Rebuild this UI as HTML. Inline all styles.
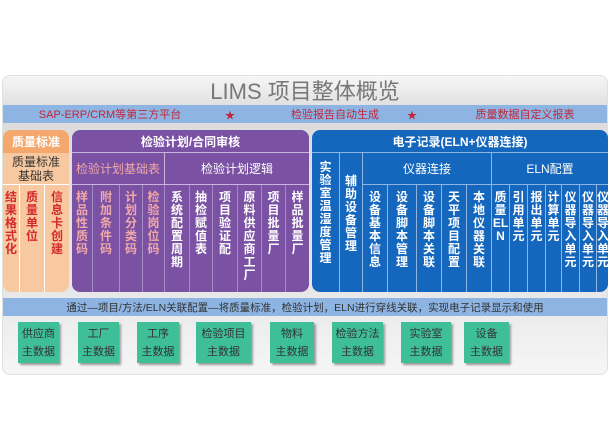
<!DOCTYPE html>
<html><head><meta charset="utf-8"><style>
body{margin:0;width:610px;height:441px;background:#fff;font-family:"Liberation Sans","Noto Sans CJK SC",sans-serif;position:relative;overflow:hidden}
div{position:absolute;box-sizing:border-box;white-space:nowrap}
.c{display:flex;align-items:center;justify-content:center;text-align:center}
.v{text-align:center;font-size:12px;line-height:13px;padding-top:6px;font-weight:bold}
</style></head><body>
<div style="left:2px;top:75px;width:606px;height:300px;border-radius:8px;background:linear-gradient(#f6f6f6,#dcdcdc 12%,#e6e6e6 70%,#f6f6f6);border:1px solid #d8e4dc"></div>
<div class="c" style="left:0;top:75px;width:610px;height:30px;font-size:22px;color:#777">LIMS 项目整体概览</div>
<div style="left:3px;top:105px;width:604px;height:18px;background:#8db4e2"></div>
<div class="c" style="left:30px;top:105px;width:160px;height:18px;font-size:11px;color:#c0273a">SAP-ERP/CRM等第三方平台</div>
<div class="c" style="left:220px;top:105px;width:20px;height:18px;font-size:10px;color:#c0273a">★</div>
<div class="c" style="left:280px;top:105px;width:110px;height:18px;font-size:11px;color:#c0273a">检验报告自动生成</div>
<div class="c" style="left:402px;top:105px;width:20px;height:18px;font-size:10px;color:#c0273a">★</div>
<div class="c" style="left:465px;top:105px;width:120px;height:18px;font-size:11px;color:#c0273a">质量数据自定义报表</div>

<!-- orange -->
<div style="left:3px;top:130px;width:66px;height:162px;background:#f8c8a0;border-radius:8px"></div>
<div class="c" style="left:3px;top:130px;width:66px;height:23px;background:#f5a86e;border-radius:8px 8px 0 0;color:#fff;font-size:12px;font-weight:bold">质量标准</div>
<div class="c" style="left:3px;top:153px;width:66px;height:32px;font-size:12px;line-height:14px;color:#333;border-bottom:1px solid #fff">质量标准<br>基础表</div>
<div class="v" style="left:3px;top:185px;width:17px;height:107px;color:#d42a2a;border-right:1px solid #fff">结<br>果<br>格<br>式<br>化</div>
<div class="v" style="left:20px;top:185px;width:25px;height:107px;color:#d42a2a;border-right:1px solid #fff">质<br>量<br>单<br>位</div>
<div class="v" style="left:45px;top:185px;width:24px;height:107px;color:#d42a2a">信<br>息<br>卡<br>创<br>建</div>

<!-- purple -->
<div style="left:72px;top:130px;width:237px;height:162px;background:#7b52a3;border-radius:8px"></div>
<div class="c" style="left:72px;top:130px;width:237px;height:23px;color:#fff;font-size:12px;font-weight:bold;border-bottom:1px solid #c8b4dc">检验计划/合同审核</div>
<div class="c" style="left:72px;top:153px;width:93px;height:32px;color:#f0a8a8;font-size:12px;border-right:1px solid #c8b4dc;border-bottom:1px solid #c8b4dc">检验计划基础表</div>
<div class="c" style="left:165px;top:153px;width:144px;height:32px;color:#fff;font-size:12px;border-bottom:1px solid #c8b4dc">检验计划逻辑</div>
<div class="v" style="left:72px;top:185px;width:21px;height:107px;color:#f0a8a8;border-right:1px solid #a58cc4">样<br>品<br>性<br>质<br>码</div>
<div class="v" style="left:93px;top:185px;width:27px;height:107px;color:#f0a8a8;border-right:1px solid #a58cc4">附<br>加<br>条<br>件<br>码</div>
<div class="v" style="left:120px;top:185px;width:23px;height:107px;color:#f0a8a8;border-right:1px solid #a58cc4">计<br>划<br>分<br>类<br>码</div>
<div class="v" style="left:143px;top:185px;width:22px;height:107px;color:#f0a8a8;border-right:1px solid #a58cc4">检<br>验<br>岗<br>位<br>码</div>
<div class="v" style="left:165px;top:185px;width:25px;height:107px;color:#fff;border-right:1px solid #a58cc4">系<br>统<br>配<br>置<br>周<br>期</div>
<div class="v" style="left:190px;top:185px;width:23px;height:107px;color:#fff;border-right:1px solid #a58cc4">抽<br>检<br>赋<br>值<br>表</div>
<div class="v" style="left:213px;top:185px;width:25px;height:107px;color:#fff;border-right:1px solid #a58cc4">项<br>目<br>验<br>证<br>配</div>
<div class="v" style="left:238px;top:185px;width:24px;height:107px;color:#fff;border-right:1px solid #a58cc4">原<br>料<br>供<br>应<br>商<br>工<br>厂</div>
<div class="v" style="left:262px;top:185px;width:24px;height:107px;color:#fff;border-right:1px solid #a58cc4">项<br>目<br>批<br>量<br>厂</div>
<div class="v" style="left:286px;top:185px;width:23px;height:107px;color:#fff">样<br>品<br>批<br>量<br>厂</div>

<!-- blue -->
<div style="left:312px;top:130px;width:296px;height:162px;background:#1467bd;border-radius:8px"></div>
<div class="c" style="left:312px;top:130px;width:296px;height:23px;color:#fff;font-size:12px;font-weight:bold;border-bottom:1px solid #8db4e2">电子记录(ELN+仪器连接)</div>
<div class="v" style="left:312px;top:153px;width:28px;height:139px;color:#fff;padding-top:8px;border-right:1px solid #8db4e2">实<br>验<br>室<br>温<br>湿<br>度<br>管<br>理</div>
<div class="v" style="left:340px;top:153px;width:23px;height:139px;color:#fff;padding-top:22px;border-right:1px solid #8db4e2">辅<br>助<br>设<br>备<br>管<br>理</div>
<div class="c" style="left:363px;top:153px;width:129px;height:32px;color:#fff;font-size:12px;border-right:1px solid #8db4e2;border-bottom:1px solid #8db4e2">仪器连接</div>
<div class="c" style="left:492px;top:153px;width:116px;height:32px;color:#fff;font-size:12px;border-bottom:1px solid #8db4e2">ELN配置</div>
<div class="v" style="left:363px;top:185px;width:25px;height:107px;color:#fff;border-right:1px solid #8db4e2">设<br>备<br>基<br>本<br>信<br>息</div>
<div class="v" style="left:388px;top:185px;width:29px;height:107px;color:#fff;border-right:1px solid #8db4e2">设<br>备<br>脚<br>本<br>管<br>理</div>
<div class="v" style="left:417px;top:185px;width:25px;height:107px;color:#fff;border-right:1px solid #8db4e2">设<br>备<br>脚<br>本<br>关<br>联</div>
<div class="v" style="left:442px;top:185px;width:25px;height:107px;color:#fff;border-right:1px solid #8db4e2">天<br>平<br>项<br>目<br>配<br>置</div>
<div class="v" style="left:467px;top:185px;width:25px;height:107px;color:#fff;border-right:1px solid #8db4e2">本<br>地<br>仪<br>器<br>关<br>联</div>
<div class="v" style="left:492px;top:185px;width:18px;height:107px;color:#fff;border-right:1px solid #8db4e2">质<br>量<br>EL<br>N</div>
<div class="v" style="left:510px;top:185px;width:18px;height:107px;color:#fff;border-right:1px solid #8db4e2">引<br>用<br>单<br>元</div>
<div class="v" style="left:528px;top:185px;width:18px;height:107px;color:#fff;border-right:1px solid #8db4e2">报<br>出<br>单<br>元</div>
<div class="v" style="left:546px;top:185px;width:16px;height:107px;color:#fff;border-right:1px solid #8db4e2">计<br>算<br>单<br>元</div>
<div class="v" style="left:562px;top:185px;width:18px;height:107px;color:#fff;border-right:1px solid #8db4e2">仪<br>器<br>导<br>入<br>单<br>元</div>
<div class="v" style="left:580px;top:185px;width:17px;height:107px;color:#fff;border-right:1px solid #8db4e2">仪<br>器<br>导<br>入<br>单<br>元</div>
<div class="v" style="left:597px;top:185px;width:11px;height:107px;color:#fff;overflow:hidden;text-align:left">仪<br>器<br>导<br>入<br>单<br>元</div>

<!-- bottom strip -->
<div class="c" style="left:3px;top:298px;width:604px;height:18px;background:#8db4e2;color:#333;font-size:10.5px">通过—项目/方法/ELN关联配置—将质量标准，检验计划，ELN进行穿线关联，实现电子记录显示和使用</div>
<div class="c" style="left:18px;top:322px;width:41px;height:41px;background:#3fbf97;color:#333;font-size:11px;line-height:18px;box-shadow:2px 2px 2px #999">供应商<br>主数据</div>
<div class="c" style="left:78px;top:322px;width:41px;height:41px;background:#3fbf97;color:#333;font-size:11px;line-height:18px;box-shadow:2px 2px 2px #999">工厂<br>主数据</div>
<div class="c" style="left:137px;top:322px;width:42px;height:41px;background:#3fbf97;color:#333;font-size:11px;line-height:18px;box-shadow:2px 2px 2px #999">工序<br>主数据</div>
<div class="c" style="left:196px;top:322px;width:55px;height:41px;background:#3fbf97;color:#333;font-size:11px;line-height:18px;box-shadow:2px 2px 2px #999">检验项目<br>主数据</div>
<div class="c" style="left:270px;top:322px;width:44px;height:41px;background:#3fbf97;color:#333;font-size:11px;line-height:18px;box-shadow:2px 2px 2px #999">物料<br>主数据</div>
<div class="c" style="left:332px;top:322px;width:51px;height:41px;background:#3fbf97;color:#333;font-size:11px;line-height:18px;box-shadow:2px 2px 2px #999">检验方法<br>主数据</div>
<div class="c" style="left:401px;top:322px;width:50px;height:41px;background:#3fbf97;color:#333;font-size:11px;line-height:18px;box-shadow:2px 2px 2px #999">实验室<br>主数据</div>
<div class="c" style="left:464px;top:322px;width:45px;height:41px;background:#3fbf97;color:#333;font-size:11px;line-height:18px;box-shadow:2px 2px 2px #999">设备<br>主数据</div>
</body></html>
